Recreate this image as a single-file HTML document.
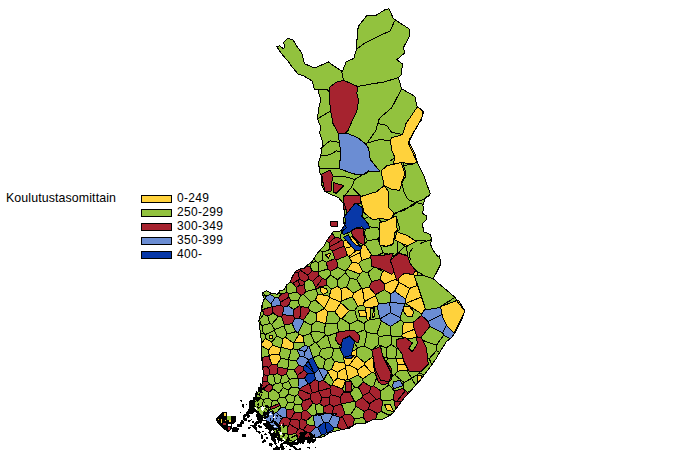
<!DOCTYPE html>
<html><head><meta charset="utf-8"><style>
html,body{margin:0;padding:0;background:#fff;width:680px;height:453px;overflow:hidden}
.t{position:absolute;font-family:"Liberation Sans",sans-serif;font-size:12px;color:#000;line-height:14px;white-space:nowrap}
.bx{position:absolute;left:141px;width:29px;height:6px;border:1px solid #000}
</style></head><body>
<div class="t" style="left:6px;top:191px;font-size:12.4px;letter-spacing:0.1px">Koulutustasomittain</div>
<div class="bx" style="top:195px;background:#ffd23c"></div>
<div class="bx" style="top:209px;background:#92c23e"></div>
<div class="bx" style="top:223px;background:#a6232f"></div>
<div class="bx" style="top:237px;background:#6b8dd3"></div>
<div class="bx" style="top:251px;background:#0838a8"></div>
<div class="t" style="left:177px;top:191px;letter-spacing:0.3px">0-249</div>
<div class="t" style="left:177px;top:205px;letter-spacing:0.3px">250-299</div>
<div class="t" style="left:177px;top:219px;letter-spacing:0.3px">300-349</div>
<div class="t" style="left:177px;top:233px;letter-spacing:0.3px">350-399</div>
<div class="t" style="left:177px;top:247px;letter-spacing:0.3px">400-</div>
<svg style="position:absolute;left:0;top:0" width="680" height="453" viewBox="0 0 680 453" stroke-linejoin="round" shape-rendering="crispEdges">
<polygon points="276.7,46.8 279.7,45.9 283.3,48.6 285.0,46.8 283.3,42.4 287.7,38.5 293.0,39.7 296.5,45.9 301.8,53.0 304.5,63.6 314.2,68.0 316.8,67.1 324.8,63.6 328.3,61.8 331.8,64.5 342.4,71.5 346.1,61.8 353.8,58.5 356.0,50.7 358.2,26.5 367.0,15.4 375.9,15.4 384.7,9.9 389.1,8.8 393.5,18.8 409.0,28.7 410.0,35.3 403.5,47.4 404.6,53.0 396.9,59.6 402.4,64.0 401.3,75.0 398.3,77.6 401.6,88.7 414.9,96.4 417.0,106.3 423.7,111.8 421.5,118.5 408.2,142.7 417.0,162.0 423.7,175.3 430.3,194.0 424.8,198.5 423.7,204.0 422.4,204.0 423.7,208.0 422.4,213.2 426.4,215.9 426.4,219.9 422.4,223.8 423.7,231.8 430.3,234.4 431.7,239.7 430.3,243.7 433.0,250.3 438.3,257.0 439.6,255.3 440.7,264.1 436.3,273.0 433.0,278.5 441.8,286.2 455.0,297.3 457.3,301.7 464.9,311.0 461.6,319.9 456.1,330.9 451.7,337.5 446.2,341.9 440.6,350.8 436.2,358.5 430.7,366.2 424.1,375.1 418.6,381.7 413.0,388.3 409.0,393.0 404.8,397.1 398.2,406.0 391.5,414.8 382.7,419.2 373.9,419.2 365.0,423.6 356.2,423.6 349.6,428.0 338.6,430.3 329.7,432.5 323.1,436.9 312.0,438.0 302.2,437.0 292.5,442.0 282.8,442.0 275.5,437.0 273.0,427.4 265.8,420.0 258.5,412.8 253.7,408.0 254.9,398.3 258.5,391.0 262.2,383.7 263.4,374.0 262.2,361.8 261.0,352.0 261.0,338.3 259.9,329.5 258.8,320.6 261.0,311.8 262.0,305.2 264.3,298.6 262.0,293.0 266.5,290.8 271.0,293.0 277.5,294.2 279.7,290.8 284.2,289.7 286.4,285.3 290.8,281.0 292.2,277.0 295.5,271.4 299.9,269.2 304.3,268.1 307.7,264.8 312.1,261.5 315.4,256.0 318.7,251.6 323.1,247.1 325.3,243.8 327.5,239.4 330.8,235.0 333.1,231.7 343.0,230.7 346.4,227.4 343.0,221.9 344.2,216.4 344.2,210.8 343.0,203.0 338.6,197.6 333.1,195.4 324.3,191.0 321.0,183.2 322.0,176.6 319.7,172.7 318.6,162.8 320.8,155.0 323.0,142.9 319.7,133.0 320.8,127.5 317.5,118.6 318.6,108.7 320.8,99.9 319.7,96.3 317.7,89.2 314.2,89.2 312.4,81.2 303.6,75.9 298.3,74.2 293.0,68.0 287.7,60.9 282.4,54.7" fill="#92c23e" stroke="#000" stroke-width="1"/>
<path d="M343.7,207.7 L344.0,209.5 L348.8,211.0 L349.9,209.6 L353.4,205.2 L344.0,203.2 L343.7,207.7Z M343.3,241.3 L342.0,240.1 L329.7,246.8 L329.9,249.5 L332.4,251.0 L343.7,246.1 L343.3,241.3Z M329.7,246.8 L342.0,240.1 L340.4,238.3 L335.1,237.4 L329.0,242.6 L329.7,246.8Z M327.7,269.1 L330.5,271.4 L337.9,267.2 L336.6,259.8 L334.7,258.6 L326.4,262.3 L327.7,269.1Z M312.7,281.3 L319.0,275.4 L318.6,271.9 L311.9,270.8 L307.9,275.3 L308.4,279.4 L312.7,281.3Z M298.1,280.2 L299.4,279.2 L298.1,272.5 L294.7,272.8 L292.2,277.0 L290.8,281.0 L290.7,281.1 L290.5,282.4 L292.7,283.1 L298.1,280.2Z M299.4,279.2 L298.1,280.2 L299.6,285.5 L304.0,284.8 L304.9,281.7 L299.4,279.2Z M287.0,292.3 L280.6,294.3 L278.7,298.0 L280.4,302.4 L288.8,297.1 L288.3,293.5 L287.0,292.3Z M384.5,289.8 L384.5,283.9 L379.9,279.4 L371.7,281.6 L369.0,287.1 L375.6,294.5 L384.5,289.8Z M299.8,318.5 L303.4,320.1 L309.9,310.7 L308.5,307.5 L301.1,306.7 L299.8,318.5Z M349.0,330.9 L340.8,333.7 L341.9,341.3 L342.1,341.3 L342.4,339.5 L349.5,336.0 L353.6,340.0 L353.6,334.4 L349.0,330.9Z M296.3,287.2 L299.6,285.5 L298.1,280.2 L292.7,283.1 L296.3,287.2Z M299.6,285.5 L296.3,287.2 L296.9,292.2 L300.9,295.2 L303.6,294.5 L305.7,291.6 L304.0,284.8 L299.6,285.5Z M316.0,288.9 L326.7,285.0 L326.0,279.7 L322.5,278.3 L315.6,287.7 L315.9,288.9 L316.0,288.9Z M280.4,302.4 L280.5,304.8 L283.2,307.4 L288.4,305.7 L290.8,300.7 L288.8,297.1 L280.4,302.4Z M273.1,313.2 L272.3,306.9 L271.8,306.6 L262.5,309.7 L263.8,314.3 L267.8,316.1 L273.1,313.2Z M273.1,313.2 L278.4,316.6 L281.5,316.4 L282.9,314.7 L283.2,307.4 L280.5,304.8 L272.3,306.9 L273.1,313.2Z M282.9,314.7 L281.5,316.4 L284.3,325.1 L292.1,323.5 L295.2,318.2 L293.3,315.9 L282.9,314.7Z M299.6,305.7 L293.7,309.5 L293.3,315.9 L295.2,318.2 L299.8,318.5 L301.1,306.7 L299.6,305.7Z M278.3,367.1 L276.9,364.9 L271.6,364.1 L268.7,367.1 L270.0,374.2 L273.6,375.0 L276.9,373.4 L278.3,367.1Z M303.6,366.5 L298.5,365.5 L294.2,370.1 L297.4,375.4 L304.1,370.2 L303.6,366.5Z M267.0,381.0 L262.4,382.2 L262.2,383.7 L261.8,384.5 L261.2,387.6 L262.1,388.9 L262.2,388.9 L269.6,384.0 L267.0,381.0Z M262.2,388.9 L268.8,392.5 L272.7,388.7 L272.8,385.8 L269.6,384.0 L262.2,388.9Z M299.3,388.8 L299.5,389.7 L310.8,394.4 L312.2,393.0 L309.5,383.7 L308.4,383.5 L299.3,388.8Z M301.1,404.7 L303.3,410.6 L306.5,410.7 L313.0,403.1 L310.1,398.5 L303.1,400.8 L301.1,404.7Z M299.7,420.1 L290.3,419.7 L289.8,424.4 L298.2,429.2 L299.5,428.7 L299.7,420.1Z M282.6,417.5 L278.7,424.3 L279.1,425.3 L288.1,426.1 L289.8,424.4 L290.3,419.7 L290.2,419.5 L286.6,417.0 L282.6,417.5Z M304.1,370.2 L297.4,375.4 L297.6,378.0 L298.2,378.8 L304.4,378.5 L307.5,373.8 L304.1,370.2Z M310.1,398.5 L313.0,403.1 L315.8,404.4 L319.6,403.6 L322.2,397.8 L318.5,391.5 L312.2,393.0 L310.8,394.4 L310.1,398.5Z M393.3,375.2 L391.2,373.1 L389.7,380.5 L393.3,375.2Z M375.0,373.2 L376.8,377.5 L379.8,378.5 L376.3,371.5 L375.0,373.2Z M401.7,401.3 L404.8,397.1 L407.4,394.5 L407.3,392.2 L405.4,390.7 L397.0,401.1 L401.7,401.3Z M363.0,395.6 L362.4,397.5 L369.3,403.8 L376.3,399.1 L369.0,392.3 L363.0,395.6Z M363.2,417.4 L365.7,421.1 L370.3,421.0 L373.9,419.2 L375.7,419.2 L377.3,413.5 L368.9,408.9 L364.3,411.5 L363.2,417.4Z M350.0,392.7 L343.7,391.9 L340.0,397.3 L341.2,403.9 L341.5,404.0 L354.5,401.4 L350.0,392.7Z M345.0,414.1 L342.5,416.7 L347.9,427.6 L353.3,425.4 L354.4,418.9 L350.7,414.3 L345.0,414.1Z M342.5,416.7 L340.1,417.5 L336.9,427.2 L341.9,429.6 L347.2,428.5 L347.9,427.6 L342.5,416.7Z M417.7,337.7 L420.8,337.7 L430.0,326.4 L427.9,321.4 L421.6,315.4 L412.9,322.6 L414.4,329.3 L417.4,337.5 L417.7,337.7Z M405.4,390.7 L403.0,388.5 L394.4,391.0 L393.2,399.7 L394.6,401.2 L397.0,401.1 L405.4,390.7Z M315.6,287.7 L322.5,278.3 L319.0,275.4 L312.7,281.3 L315.6,287.7Z M373.6,385.8 L371.2,386.8 L369.0,392.3 L376.3,399.1 L380.4,398.8 L380.8,390.9 L373.6,385.8Z M347.3,255.6 L345.2,248.1 L343.7,246.1 L332.4,251.0 L334.7,258.6 L336.6,259.8 L347.3,255.6Z M307.9,275.3 L300.7,270.4 L298.1,272.5 L299.4,279.2 L304.9,281.7 L308.4,279.4 L307.9,275.3Z M281.5,376.0 L286.4,374.0 L288.1,369.1 L287.9,368.8 L278.3,367.1 L276.9,373.4 L281.5,376.0Z M262.9,357.4 L262.0,360.5 L262.2,361.8 L262.6,365.7 L263.4,366.7 L268.7,367.1 L271.6,364.1 L268.7,355.7 L262.9,357.4Z M263.4,366.7 L262.8,367.9 L263.4,374.0 L263.3,374.6 L267.9,375.7 L270.0,374.2 L268.7,367.1 L263.4,366.7Z M286.6,417.0 L290.2,419.5 L294.9,412.3 L292.8,409.0 L286.3,409.2 L286.6,417.0Z M301.3,418.6 L306.2,420.8 L312.1,415.9 L306.5,410.7 L303.3,410.6 L301.3,412.7 L301.3,418.6Z M304.7,431.5 L303.4,429.6 L299.5,428.7 L298.2,429.2 L295.9,433.4 L298.0,439.0 L298.3,439.0 L302.2,437.0 L303.6,437.1 L304.7,431.5Z M290.2,419.5 L290.3,419.7 L299.7,420.1 L301.3,418.6 L301.3,412.7 L294.9,412.3 L290.2,419.5Z M289.8,424.4 L288.1,426.1 L287.2,433.4 L288.2,434.8 L295.9,433.4 L298.2,429.2 L289.8,424.4Z M311.8,437.6 L310.1,432.9 L304.7,431.5 L303.6,437.1 L311.6,438.0 L311.8,437.6Z M310.1,432.9 L316.0,427.2 L314.7,425.8 L307.2,424.8 L303.4,429.6 L304.7,431.5 L310.1,432.9Z M315.4,379.4 L309.5,383.7 L312.2,393.0 L318.5,391.5 L318.7,391.1 L318.5,381.5 L315.4,379.4Z M303.1,400.8 L310.1,398.5 L310.8,394.4 L299.5,389.7 L297.7,394.7 L303.1,400.8Z M318.5,391.5 L322.2,397.8 L329.1,397.5 L331.2,394.7 L329.9,388.1 L318.7,391.1 L318.5,391.5Z M333.5,406.7 L330.0,404.4 L323.8,406.6 L323.8,412.6 L332.3,414.2 L333.5,406.7Z M329.1,397.5 L330.0,404.4 L333.5,406.7 L341.2,403.9 L340.0,397.3 L331.2,394.7 L329.1,397.5Z M330.7,385.9 L329.9,388.1 L331.2,394.7 L340.0,397.3 L343.7,391.9 L342.5,388.9 L332.1,384.9 L330.7,385.9Z M341.5,404.0 L341.2,403.9 L333.5,406.7 L332.3,414.2 L332.7,415.0 L340.1,417.5 L342.5,416.7 L345.0,414.1 L341.5,404.0Z M318.5,381.5 L318.7,391.1 L329.9,388.1 L330.7,385.9 L323.5,380.6 L318.5,381.5Z M363.0,395.6 L369.0,392.3 L371.2,386.8 L363.1,382.1 L358.4,387.3 L363.0,395.6Z M368.9,408.9 L369.3,403.8 L362.4,397.5 L355.3,401.9 L356.1,406.4 L364.3,411.5 L368.9,408.9Z M376.3,399.1 L369.3,403.8 L368.9,408.9 L377.3,413.5 L381.3,411.4 L382.7,401.1 L380.4,398.8 L376.3,399.1Z M300.9,269.3 L300.6,269.0 L299.9,269.2 L295.5,271.4 L294.7,272.8 L298.1,272.5 L300.7,270.4 L300.9,269.3Z M335.1,237.4 L332.0,233.2 L330.8,235.0 L327.5,239.4 L326.6,241.1 L329.0,242.6 L335.1,237.4Z M303.4,429.6 L307.2,424.8 L306.2,420.8 L301.3,418.6 L299.7,420.1 L299.5,428.7 L303.4,429.6Z M267.0,381.0 L267.9,375.7 L263.3,374.6 L262.4,382.2 L267.0,381.0Z M305.8,266.7 L304.3,268.1 L301.4,268.8 L300.9,269.3 L300.7,270.4 L307.9,275.3 L311.9,270.8 L310.1,266.2 L305.8,266.7Z M394.6,401.2 L395.3,409.8 L398.2,406.0 L401.7,401.3 L397.0,401.1 L394.6,401.2Z M322.2,397.8 L319.6,403.6 L323.8,406.6 L330.0,404.4 L329.1,397.5 L322.2,397.8Z M407.3,392.2 L407.4,394.5 L409.0,393.0 L410.7,391.0 L407.3,392.2Z" fill="#a6232f" stroke="#000" stroke-width="1"/>
<path d="M345.2,248.1 L351.7,246.5 L347.2,241.4 L345.8,240.0 L343.3,241.3 L343.7,246.1 L345.2,248.1Z M358.9,244.7 L352.2,236.5 L350.0,237.7 L351.2,240.0 L356.5,245.3 L356.6,245.3 L358.9,244.7Z M360.7,245.6 L358.9,244.7 L356.6,245.3 L360.4,246.3 L360.7,245.6Z M345.2,248.1 L347.3,255.6 L348.8,256.7 L356.2,250.6 L355.2,250.6 L351.7,246.5 L345.2,248.1Z M361.6,260.4 L360.3,252.6 L349.5,257.8 L352.1,262.3 L358.7,263.3 L361.6,260.4Z M358.7,263.3 L352.1,262.3 L347.2,269.3 L360.1,274.1 L362.6,271.3 L358.7,263.3Z M382.5,271.5 L379.9,279.4 L384.5,283.9 L396.4,278.9 L394.5,273.2 L394.2,272.1 L391.8,274.5 L384.3,270.8 L382.5,271.5Z M402.6,274.4 L399.8,277.1 L398.0,279.8 L399.0,282.4 L409.6,288.3 L416.6,285.9 L416.9,283.1 L414.4,275.8 L417.5,275.9 L417.8,271.7 L415.7,270.5 L413.0,274.5 L404.9,273.4 L402.6,274.4Z M390.6,293.8 L394.7,291.2 L399.0,282.4 L398.0,279.8 L397.1,281.1 L396.4,278.9 L384.5,283.9 L384.5,289.8 L390.6,293.8Z M377.3,306.6 L378.8,303.7 L375.6,295.7 L364.4,301.6 L362.7,305.4 L365.2,307.0 L370.8,307.3 L377.3,306.6Z M412.9,322.6 L403.3,322.0 L402.2,334.0 L414.4,329.3 L412.9,322.6Z M399.0,282.4 L394.7,291.2 L405.6,299.1 L409.6,288.3 L399.0,282.4Z M349.3,364.9 L357.9,369.8 L364.5,364.8 L364.7,362.7 L356.5,355.8 L349.3,364.9Z M334.5,361.5 L331.6,369.4 L337.2,372.3 L345.4,367.6 L346.2,365.6 L344.1,363.1 L334.5,361.5Z M285.6,337.2 L282.8,338.7 L281.6,347.4 L291.2,349.7 L293.3,348.6 L293.4,343.1 L285.6,337.2Z M293.8,342.7 L304.1,342.9 L302.9,335.9 L299.1,334.3 L293.8,342.7Z M281.2,347.8 L272.5,345.3 L268.6,350.0 L269.1,355.1 L279.1,354.6 L281.2,347.8Z M331.6,369.4 L327.8,370.8 L327.8,372.2 L333.6,381.6 L337.4,378.4 L337.2,372.3 L331.6,369.4Z M337.4,378.4 L345.8,380.3 L348.0,379.0 L345.4,367.6 L337.2,372.3 L337.4,378.4Z M352.5,350.3 L351.2,355.4 L344.2,357.1 L343.9,356.4 L344.1,363.1 L346.2,365.6 L349.3,364.9 L356.5,355.8 L356.0,349.9 L352.5,350.3Z M346.2,365.6 L345.4,367.6 L348.0,379.0 L349.1,379.3 L358.1,375.0 L357.9,369.8 L349.3,364.9 L346.2,365.6Z M396.5,358.8 L397.4,364.3 L405.6,364.5 L403.6,360.6 L403.0,358.1 L396.5,358.8Z M414.4,329.3 L402.2,334.0 L401.8,336.1 L403.5,338.0 L405.3,337.7 L406.7,338.7 L417.4,337.5 L414.4,329.3Z M397.4,364.3 L397.7,371.2 L406.9,370.1 L407.7,368.7 L405.6,364.5 L397.4,364.3Z M425.3,308.4 L421.5,297.0 L405.7,303.4 L405.7,303.5 L421.7,314.0 L425.3,308.4Z M364.4,301.6 L362.4,288.5 L361.6,288.3 L353.6,293.1 L352.6,296.9 L357.7,306.2 L362.7,305.4 L364.4,301.6Z M324.3,308.1 L324.3,308.5 L327.8,311.6 L335.0,312.0 L340.7,302.6 L340.7,302.0 L329.6,297.5 L324.3,308.1Z M337.4,286.5 L331.4,288.9 L329.2,296.3 L329.6,297.5 L340.7,302.0 L341.7,300.7 L340.9,288.3 L337.4,286.5Z M346.6,287.3 L340.9,288.3 L341.7,300.7 L352.6,296.9 L353.6,293.1 L346.6,287.3Z M340.7,302.6 L335.0,312.0 L340.2,318.9 L342.0,318.7 L349.4,310.6 L340.7,302.6Z M370.8,307.3 L365.2,307.0 L367.3,320.6 L370.1,319.8 L370.8,307.3Z M327.8,311.6 L324.3,308.5 L316.0,313.2 L316.5,320.9 L325.3,323.7 L325.7,323.4 L327.8,311.6Z M364.7,244.3 L364.4,244.4 L364.4,245.3 L363.3,244.8 L360.7,245.6 L360.4,246.3 L361.8,246.7 L360.5,250.6 L360.1,250.6 L360.3,252.6 L361.6,260.4 L370.8,257.5 L370.6,255.9 L372.2,255.9 L364.7,244.3Z M375.6,295.7 L375.6,294.5 L369.0,287.1 L362.4,288.5 L364.4,301.6 L375.6,295.7Z M405.6,299.1 L405.7,303.4 L421.5,297.0 L419.8,291.8 L418.2,287.1 L416.6,285.9 L409.6,288.3 L405.6,299.1Z M348.8,256.7 L349.5,257.8 L360.3,252.6 L360.1,250.6 L356.2,250.6 L348.8,256.7Z M364.5,364.8 L371.6,372.7 L375.0,373.2 L376.3,371.5 L375.3,369.5 L373.5,358.9 L373.0,356.2 L364.7,362.7 L364.5,364.8Z M271.8,341.8 L265.5,338.5 L261.3,343.3 L261.9,346.1 L268.6,350.0 L272.5,345.3 L271.8,341.8Z M279.1,354.6 L269.1,355.1 L268.7,355.7 L271.6,364.1 L276.9,364.9 L281.1,358.1 L279.1,354.6Z M332.1,384.9 L342.5,388.9 L345.0,382.4 L345.0,381.6 L345.3,381.6 L345.8,380.3 L337.4,378.4 L333.6,381.6 L332.1,384.9Z M357.9,369.8 L358.1,375.0 L362.8,378.9 L371.6,372.7 L364.5,364.8 L357.9,369.8Z M317.9,294.0 L315.4,300.1 L324.3,308.1 L329.6,297.5 L329.2,296.3 L317.9,294.0Z" fill="#ffd23c" stroke="#000" stroke-width="1"/>
<path d="M395.3,237.5 L397.1,232.0 L396.5,231.2 L394.6,233.1 L394.0,237.5 L395.3,237.5Z M378.9,228.1 L379.1,232.4 L379.6,227.1 L378.9,228.1Z M326.4,262.3 L334.7,258.6 L332.4,251.0 L329.9,249.5 L323.0,252.0 L322.9,260.2 L326.4,262.3Z M363.3,244.8 L359.1,242.7 L352.5,236.1 L352.4,235.8 L352.2,236.5 L358.9,244.7 L360.7,245.6 L363.3,244.8Z M364.7,244.3 L367.2,240.8 L364.0,232.8 L363.7,232.8 L364.4,238.7 L364.4,244.4 L364.7,244.3Z M398.3,253.2 L405.7,244.9 L402.5,243.7 L397.3,241.1 L397.7,253.1 L398.3,253.2Z M382.5,271.5 L384.3,270.8 L381.2,269.2 L376.9,267.9 L382.5,271.5Z M392.2,265.6 L390.7,260.6 L390.5,261.2 L392.2,265.7 L392.2,265.6Z M393.8,255.6 L392.5,255.3 L391.1,259.4 L393.5,257.4 L393.8,255.6Z M382.9,252.8 L376.7,255.9 L379.9,255.9 L388.4,254.2 L382.9,252.8Z M393.5,257.4 L398.5,253.3 L407.7,255.9 L407.6,255.4 L398.3,253.2 L397.7,253.1 L393.8,255.6 L393.5,257.4Z M404.9,273.4 L403.8,273.2 L402.6,274.4 L404.9,273.4Z M379.6,318.3 L377.3,306.6 L370.8,307.3 L370.1,319.8 L379.6,318.3Z M341.9,341.3 L339.1,348.0 L340.7,349.1 L342.1,341.3 L341.9,341.3Z M356.0,349.9 L357.4,347.8 L354.4,342.7 L353.0,348.3 L352.5,350.3 L356.0,349.9Z M265.5,338.5 L271.8,341.8 L276.9,336.1 L274.4,330.2 L265.2,334.7 L265.5,338.5Z M293.4,343.1 L293.3,348.6 L297.2,350.1 L298.3,349.6 L305.0,345.2 L304.1,342.9 L293.8,342.7 L293.4,343.1Z M277.3,400.1 L272.4,400.8 L269.6,410.7 L273.9,413.3 L276.3,412.7 L280.7,407.6 L277.3,400.1Z M279.1,425.3 L278.3,427.8 L281.1,433.0 L287.2,433.4 L288.1,426.1 L279.1,425.3Z M323.8,379.8 L323.5,380.6 L330.7,385.9 L332.1,384.9 L333.6,381.6 L327.8,372.2 L323.8,379.8Z M316.2,414.6 L320.7,415.4 L323.8,412.6 L323.8,406.6 L319.6,403.6 L315.8,404.4 L316.2,414.6Z M389.0,384.9 L394.4,391.0 L403.0,388.5 L404.0,382.5 L394.7,374.7 L393.3,375.2 L389.7,380.5 L389.4,381.8 L388.9,381.7 L389.0,384.9Z M382.7,401.1 L381.3,411.4 L388.7,415.1 L392.9,412.9 L395.3,409.8 L394.6,401.2 L393.2,399.7 L382.7,401.1Z M351.6,382.9 L351.6,390.8 L354.6,387.3 L351.6,382.9Z M349.1,379.3 L348.0,379.0 L345.8,380.3 L345.3,381.6 L350.7,381.6 L349.1,379.3Z M342.5,388.9 L343.7,391.9 L350.0,392.7 L351.0,391.6 L345.0,391.6 L345.0,382.4 L342.5,388.9Z M461.1,320.9 L461.6,319.9 L463.6,314.5 L463.3,314.2 L459.9,321.1 L461.1,320.9Z M447.9,301.8 L447.1,302.3 L443.5,305.2 L443.5,305.5 L452.0,302.3 L447.9,301.8Z M411.7,351.1 L412.4,351.8 L413.2,350.6 L411.7,351.1Z M383.5,357.5 L386.2,363.0 L387.5,358.4 L387.1,358.0 L383.5,357.5Z M400.7,320.1 L403.3,322.0 L412.9,322.6 L421.6,315.4 L421.7,314.0 L405.7,303.5 L405.0,304.0 L400.1,317.7 L400.7,320.1Z M411.5,378.4 L415.7,385.1 L418.6,381.7 L424.1,375.1 L424.1,375.0 L419.8,373.1 L411.6,378.1 L411.5,378.4Z M356.6,279.3 L360.1,274.1 L347.2,269.3 L345.4,271.4 L345.5,273.0 L350.1,278.6 L356.6,279.3Z M326.7,285.0 L316.0,288.9 L317.9,294.0 L329.2,296.3 L331.4,288.9 L326.7,285.0Z M362.7,305.4 L357.7,306.2 L354.7,310.3 L357.6,320.0 L364.1,323.4 L367.3,320.6 L365.2,307.0 L362.7,305.4Z M397.7,253.1 L397.3,241.1 L394.6,239.7 L395.3,237.5 L394.0,237.5 L393.2,243.7 L386.6,246.4 L380.2,245.0 L382.9,252.8 L388.4,254.2 L393.2,253.3 L392.5,255.3 L393.8,255.6 L397.7,253.1Z M378.1,238.9 L379.9,244.3 L379.3,237.0 L378.1,238.9Z M407.6,255.4 L406.4,246.6 L407.9,245.8 L405.7,244.9 L398.3,253.2 L407.6,255.4Z M443.5,305.2 L447.1,302.3 L442.5,305.1 L443.5,305.2Z M374.1,213.5 L362.0,207.0 L361.8,207.0 L363.1,212.2 L361.8,216.2 L364.2,219.1 L374.1,213.5Z M345.4,223.7 L345.9,222.8 L344.6,216.2 L348.8,211.0 L344.0,209.5 L344.2,210.8 L344.2,216.4 L343.2,220.9 L345.4,223.7Z M353.3,229.7 L356.5,228.1 L363.1,228.1 L361.8,226.8 L355.2,228.1 L353.2,229.6 L353.3,229.7Z M364.0,232.8 L366.2,229.0 L364.4,229.4 L363.1,228.1 L363.7,232.8 L364.0,232.8Z M342.0,240.1 L343.3,241.3 L345.8,240.0 L343.2,237.4 L348.5,234.7 L350.0,237.7 L352.2,236.5 L352.4,235.8 L351.3,231.1 L349.9,232.1 L343.2,234.7 L342.2,230.8 L341.6,230.8 L340.4,238.3 L342.0,240.1Z M340.8,333.7 L338.5,332.2 L327.6,336.0 L330.9,346.9 L333.8,349.0 L339.1,348.0 L341.9,341.3 L340.8,333.7Z M364.6,329.7 L353.6,334.4 L353.6,340.0 L354.8,341.2 L354.4,342.7 L357.4,347.8 L364.3,346.0 L367.1,332.7 L364.6,329.7Z M357.4,347.8 L356.0,349.9 L356.5,355.8 L364.7,362.7 L373.0,356.2 L371.8,350.0 L371.9,350.0 L364.3,346.0 L357.4,347.8Z M281.6,347.4 L282.8,338.7 L276.9,336.1 L271.8,341.8 L272.5,345.3 L281.2,347.8 L281.6,347.4Z M281.1,358.1 L276.9,364.9 L278.3,367.1 L287.9,368.8 L288.5,359.9 L288.4,359.7 L281.1,358.1Z M287.9,368.8 L288.1,369.1 L294.2,370.1 L298.5,365.5 L296.5,360.6 L288.5,359.9 L287.9,368.8Z M288.2,434.8 L287.9,439.3 L293.2,441.6 L297.8,439.3 L298.0,439.0 L295.9,433.4 L288.2,434.8Z M407.3,392.2 L410.7,391.0 L413.0,388.3 L415.7,385.1 L411.5,378.4 L404.0,382.5 L403.0,388.5 L405.4,390.7 L407.3,392.2Z M429.2,358.7 L436.5,350.6 L436.4,345.2 L422.5,340.3 L426.5,348.3 L427.7,358.6 L429.2,358.7Z M406.7,338.7 L412.4,343.0 L408.9,348.3 L411.7,351.1 L413.2,350.6 L417.7,343.0 L415.9,337.7 L417.7,337.7 L417.4,337.5 L406.7,338.7Z M419.8,373.1 L424.1,375.0 L430.7,366.2 L431.8,364.7 L429.2,358.7 L427.7,358.6 L428.3,364.2 L421.2,371.2 L419.3,371.2 L419.8,373.1Z M396.5,358.8 L403.0,358.1 L401.8,353.6 L397.8,348.3 L397.1,348.6 L395.7,358.2 L396.5,358.8Z M397.8,348.3 L396.5,346.5 L396.5,339.4 L403.5,338.0 L401.8,336.1 L391.8,336.4 L391.2,344.5 L397.1,348.6 L397.8,348.3Z M372.3,349.8 L380.6,346.5 L382.4,355.3 L383.5,357.5 L387.1,358.0 L386.2,347.8 L378.3,344.8 L372.3,349.8Z M340.7,302.0 L340.7,302.6 L349.4,310.6 L354.7,310.3 L357.7,306.2 L352.6,296.9 L341.7,300.7 L340.7,302.0Z M417.5,275.9 L425.0,276.0 L417.8,271.7 L417.5,275.9Z M416.6,285.9 L418.2,287.1 L416.9,283.1 L416.6,285.9Z M361.6,260.4 L358.7,263.3 L362.6,271.3 L367.7,272.6 L374.1,267.1 L371.9,266.5 L370.8,257.5 L361.6,260.4Z M361.6,288.3 L362.4,288.5 L369.0,287.1 L371.7,281.6 L367.7,272.6 L362.6,271.3 L360.1,274.1 L356.6,279.3 L361.6,288.3Z M269.7,323.5 L271.7,324.3 L278.4,316.6 L273.1,313.2 L267.8,316.1 L269.7,323.5Z M367.3,320.6 L364.1,323.4 L364.6,329.7 L367.1,332.7 L376.9,333.8 L381.3,321.1 L380.2,318.7 L379.6,318.3 L370.1,319.8 L367.3,320.6Z M314.6,342.8 L316.4,343.1 L325.7,335.0 L324.4,332.6 L311.9,331.0 L310.5,333.4 L314.6,342.8Z M390.6,335.2 L390.6,326.3 L381.3,321.1 L376.9,333.8 L379.1,336.4 L390.6,335.2Z M290.7,281.1 L288.1,283.7 L290.5,282.4 L290.7,281.1Z M293.6,402.5 L294.7,404.0 L301.1,404.7 L303.1,400.8 L297.7,394.7 L295.0,396.3 L293.6,402.5Z M354.4,418.9 L353.3,425.4 L353.4,425.5 L356.2,423.6 L365.0,423.6 L365.7,421.1 L363.2,417.4 L354.4,418.9Z M269.6,410.7 L272.4,400.8 L268.2,397.9 L263.2,399.5 L262.7,406.0 L267.9,410.8 L269.6,410.7Z M322.9,260.2 L323.0,252.0 L320.0,250.3 L319.9,250.4 L318.7,251.6 L315.4,256.0 L314.5,257.5 L315.4,261.4 L318.3,262.3 L322.9,260.2Z M337.6,279.8 L330.7,275.0 L326.0,279.7 L326.7,285.0 L331.4,288.9 L337.4,286.5 L337.6,279.8Z M278.9,393.4 L272.7,388.7 L268.8,392.5 L268.2,397.9 L272.4,400.8 L277.3,400.1 L279.8,397.1 L278.9,393.4Z M270.9,293.0 L266.5,290.8 L263.0,292.5 L265.6,296.4 L270.3,294.3 L270.9,293.0Z M318.9,355.3 L312.8,357.7 L312.7,357.8 L318.9,369.1 L323.2,368.3 L325.3,359.5 L318.9,355.3Z M280.6,294.3 L287.0,292.3 L286.6,285.1 L286.4,285.3 L284.2,289.7 L279.7,290.8 L278.9,292.1 L280.6,294.3Z M261.2,387.6 L260.3,387.5 L258.5,391.0 L257.0,394.0 L259.3,394.7 L262.1,388.9 L261.2,387.6Z M316.0,313.2 L309.9,310.7 L303.4,320.1 L304.0,321.2 L311.0,325.1 L316.5,320.9 L316.0,313.2Z M375.0,373.2 L371.6,372.7 L362.8,378.9 L363.1,382.1 L371.2,386.8 L373.6,385.8 L376.8,377.5 L375.0,373.2Z M273.6,375.0 L270.0,374.2 L267.9,375.7 L267.0,381.0 L269.6,384.0 L272.8,385.8 L275.4,383.4 L273.6,375.0Z M378.1,238.9 L379.3,237.0 L379.0,234.0 L379.1,232.4 L378.9,228.1 L369.3,226.7 L369.7,228.1 L366.2,229.0 L364.0,232.8 L367.2,240.8 L378.1,238.9Z M274.6,329.5 L283.8,326.1 L284.3,325.1 L281.5,316.4 L278.4,316.6 L271.7,324.3 L274.6,329.5Z M311.7,262.9 L311.0,262.3 L307.7,264.8 L305.8,266.7 L310.1,266.2 L311.7,262.9Z M386.2,363.0 L387.7,365.9 L391.2,373.0 L391.2,373.1 L393.3,375.2 L394.7,374.7 L397.7,371.2 L397.4,364.3 L396.5,358.8 L395.7,358.2 L387.5,358.4 L386.2,363.0Z M291.2,349.7 L281.6,347.4 L281.2,347.8 L279.1,354.6 L281.1,358.1 L288.4,359.7 L291.2,349.7Z M281.5,376.0 L276.9,373.4 L273.6,375.0 L275.4,383.4 L280.5,382.9 L281.5,376.0Z M308.5,307.5 L310.8,301.9 L303.6,294.5 L300.9,295.2 L298.2,300.7 L299.6,305.7 L301.1,306.7 L308.5,307.5Z M356.1,406.4 L350.7,414.3 L354.4,418.9 L363.2,417.4 L364.3,411.5 L356.1,406.4Z M318.7,271.7 L327.7,269.1 L326.4,262.3 L322.9,260.2 L318.3,262.3 L318.7,271.7Z M380.8,390.9 L380.4,398.8 L382.7,401.1 L393.2,399.7 L394.4,391.0 L389.0,384.9 L380.8,390.9Z M325.3,323.7 L324.4,332.6 L325.7,335.0 L327.6,336.0 L338.5,332.2 L337.1,323.8 L325.7,323.4 L325.3,323.7Z M323.9,434.9 L321.4,434.9 L320.0,436.8 L320.0,437.2 L323.1,436.9 L324.8,435.7 L323.9,434.9Z M296.3,287.2 L292.7,283.1 L290.5,282.4 L288.1,283.7 L286.6,285.1 L287.0,292.3 L288.3,293.5 L296.9,292.2 L296.3,287.2Z M257.0,394.0 L254.9,398.3 L254.5,401.6 L261.2,398.5 L259.3,394.7 L257.0,394.0Z M436.4,345.2 L443.5,335.5 L442.8,332.7 L430.0,326.4 L420.8,337.7 L421.2,337.7 L422.5,340.3 L436.4,345.2Z M260.4,333.6 L261.0,338.3 L261.0,343.2 L261.3,343.3 L265.5,338.5 L265.2,334.7 L263.2,333.0 L260.4,333.6Z M283.1,387.7 L278.9,393.4 L279.8,397.1 L285.2,397.5 L288.4,394.3 L288.4,390.1 L283.1,387.7Z M376.9,333.8 L367.1,332.7 L364.3,346.0 L371.9,350.0 L372.3,349.8 L378.3,344.8 L379.1,336.4 L376.9,333.8Z M287.9,439.3 L288.2,434.8 L287.2,433.4 L281.1,433.0 L277.3,438.2 L278.9,439.3 L285.8,441.5 L287.9,439.3Z M378.3,344.8 L386.2,347.8 L391.2,344.5 L391.8,336.4 L390.6,335.2 L379.1,336.4 L378.3,344.8Z M326.6,241.1 L325.3,243.8 L323.1,247.1 L320.0,250.3 L320.0,250.3 L323.0,252.0 L329.9,249.5 L329.7,246.8 L329.0,242.6 L326.6,241.1Z M311.9,331.0 L311.0,325.1 L304.0,321.2 L298.1,332.7 L299.1,334.3 L302.9,335.9 L310.5,333.4 L311.9,331.0Z M298.1,332.7 L295.7,331.7 L287.2,333.9 L285.6,337.2 L293.4,343.1 L293.8,342.7 L299.1,334.3 L298.1,332.7Z M343.2,220.9 L343.0,221.9 L344.7,224.7 L345.4,223.7 L343.2,220.9Z M377.3,413.5 L375.7,419.2 L382.7,419.2 L388.7,416.2 L388.7,415.1 L381.3,411.4 L377.3,413.5Z M436.5,350.6 L439.6,352.5 L440.6,350.8 L446.2,341.9 L450.4,338.6 L443.5,335.5 L436.4,345.2 L436.5,350.6Z M267.9,410.8 L262.7,406.0 L256.2,408.4 L255.8,410.1 L258.5,412.8 L261.0,415.2 L263.9,415.0 L267.9,410.8Z M349.9,324.0 L342.0,318.7 L340.2,318.9 L337.1,323.8 L338.5,332.2 L340.8,333.7 L349.0,330.9 L349.9,324.0Z M406.9,370.1 L411.6,378.1 L419.8,373.1 L419.3,371.2 L408.9,371.2 L407.7,368.7 L406.9,370.1Z M324.3,308.5 L324.3,308.1 L315.4,300.1 L310.8,301.9 L308.5,307.5 L309.9,310.7 L316.0,313.2 L324.3,308.5Z M389.7,302.8 L390.3,302.2 L390.6,293.8 L384.5,289.8 L375.6,294.5 L375.6,295.7 L378.8,303.7 L389.7,302.8Z M321.2,349.3 L318.9,355.3 L325.3,359.5 L331.6,357.5 L333.8,349.0 L330.9,346.9 L321.2,349.3Z M397.7,371.2 L394.7,374.7 L404.0,382.5 L411.5,378.4 L411.6,378.1 L406.9,370.1 L397.7,371.2Z M261.9,309.2 L262.7,303.1 L262.0,305.2 L261.4,309.2 L261.9,309.2Z M261.9,346.1 L261.3,343.3 L261.0,343.2 L261.0,347.2 L261.9,346.1Z M288.5,381.3 L282.0,383.9 L283.1,387.7 L288.4,390.1 L291.6,387.1 L288.5,381.3Z M259.7,319.5 L259.1,319.3 L258.8,320.6 L259.3,325.0 L260.8,324.4 L259.7,319.5Z M347.2,428.5 L349.6,428.0 L353.4,425.5 L353.3,425.4 L347.9,427.6 L347.2,428.5Z M303.6,294.5 L310.8,301.9 L315.4,300.1 L317.9,294.0 L316.0,288.9 L315.9,288.9 L305.7,291.6 L303.6,294.5Z M262.2,325.4 L260.8,324.4 L259.3,325.0 L259.9,329.5 L260.4,333.6 L263.2,333.0 L262.2,325.4Z M302.9,335.9 L304.1,342.9 L305.0,345.2 L308.4,346.6 L309.3,346.7 L314.6,342.8 L310.5,333.4 L302.9,335.9Z M364.1,323.4 L357.6,320.0 L349.9,324.0 L349.0,330.9 L353.6,334.4 L364.6,329.7 L364.1,323.4Z M292.8,409.0 L294.9,412.3 L301.3,412.7 L303.3,410.6 L301.1,404.7 L294.7,404.0 L292.8,409.0Z M316.5,320.9 L311.0,325.1 L311.9,331.0 L324.4,332.6 L325.3,323.7 L316.5,320.9Z M381.5,222.1 L385.3,221.2 L386.9,220.4 L374.3,213.6 L381.5,222.1Z M345.5,273.0 L337.6,279.8 L337.4,286.5 L340.9,288.3 L346.6,287.3 L350.1,278.6 L345.5,273.0Z M256.2,408.4 L254.1,404.9 L253.7,408.0 L255.8,410.1 L256.2,408.4Z M371.7,281.6 L379.9,279.4 L382.5,271.5 L376.9,267.9 L374.1,267.1 L367.7,272.6 L371.7,281.6Z M287.7,402.0 L285.2,397.5 L279.8,397.1 L277.3,400.1 L280.7,407.6 L285.2,408.0 L287.7,402.0Z M349.4,310.6 L342.0,318.7 L349.9,324.0 L357.6,320.0 L354.7,310.3 L349.4,310.6Z M262.9,357.4 L261.6,356.7 L262.0,360.5 L262.9,357.4Z M265.6,296.4 L263.0,292.5 L262.0,293.0 L264.3,298.6 L264.3,298.7 L265.1,298.0 L265.6,296.4Z M344.0,203.2 L343.0,203.0 L343.7,207.7 L344.0,203.2Z M452.0,302.3 L456.7,300.6 L455.0,297.3 L447.9,301.8 L452.0,302.3Z M382.9,252.8 L380.2,245.0 L380.0,245.0 L379.9,244.3 L378.1,238.9 L367.2,240.8 L364.7,244.3 L372.2,255.9 L376.7,255.9 L382.9,252.8Z M336.9,427.2 L334.1,427.9 L332.9,430.4 L333.2,431.6 L338.6,430.3 L341.9,429.6 L336.9,427.2Z M345.5,273.0 L345.4,271.4 L337.9,267.2 L330.5,271.4 L330.7,275.0 L337.6,279.8 L345.5,273.0Z M287.2,333.9 L283.8,326.1 L274.6,329.5 L274.4,330.2 L276.9,336.1 L282.8,338.7 L285.6,337.2 L287.2,333.9Z M288.4,394.3 L285.2,397.5 L287.7,402.0 L293.6,402.5 L295.0,396.3 L288.4,394.3Z M320.0,436.8 L311.8,437.6 L311.6,438.0 L312.0,438.0 L320.0,437.2 L320.0,436.8Z M431.8,364.7 L436.2,358.5 L439.6,352.5 L436.5,350.6 L429.2,358.7 L431.8,364.7Z M297.6,378.0 L297.4,375.4 L294.2,370.1 L288.1,369.1 L286.4,374.0 L289.4,379.2 L297.6,378.0Z M316.4,343.1 L314.6,342.8 L309.3,346.7 L312.8,357.7 L318.9,355.3 L321.2,349.3 L316.4,343.1Z M402.2,334.0 L403.3,322.0 L400.7,320.1 L390.6,326.3 L390.6,335.2 L391.8,336.4 L401.8,336.1 L402.2,334.0Z M388.7,415.1 L388.7,416.2 L391.5,414.8 L392.9,412.9 L388.7,415.1Z M293.3,348.6 L291.2,349.7 L288.4,359.7 L288.5,359.9 L296.5,360.6 L300.0,356.0 L297.2,350.1 L293.3,348.6Z M352.1,262.3 L349.5,257.8 L348.8,256.7 L347.3,255.6 L336.6,259.8 L337.9,267.2 L345.4,271.4 L347.2,269.3 L352.1,262.3Z M288.4,390.1 L288.4,394.3 L295.0,396.3 L297.7,394.7 L299.5,389.7 L299.3,388.8 L298.0,387.3 L291.6,387.1 L288.4,390.1Z M263.8,314.3 L262.5,309.7 L261.9,309.2 L261.4,309.2 L261.0,311.8 L259.1,319.3 L259.7,319.5 L263.8,314.3Z M298.2,300.7 L290.8,300.7 L288.4,305.7 L293.7,309.5 L299.6,305.7 L298.2,300.7Z M318.6,271.9 L319.0,275.4 L322.5,278.3 L326.0,279.7 L330.7,275.0 L330.5,271.4 L327.7,269.1 L318.7,271.7 L318.6,271.9Z M337.1,323.8 L340.2,318.9 L335.0,312.0 L327.8,311.6 L325.7,323.4 L337.1,323.8Z M304.9,281.7 L304.0,284.8 L305.7,291.6 L315.9,288.9 L315.6,287.7 L312.7,281.3 L308.4,279.4 L304.9,281.7Z M387.5,358.4 L395.7,358.2 L397.1,348.6 L391.2,344.5 L386.2,347.8 L387.1,358.0 L387.5,358.4Z M341.6,230.8 L333.1,231.7 L332.0,233.2 L335.1,237.4 L340.4,238.3 L341.6,230.8Z M265.2,334.7 L274.4,330.2 L274.6,329.5 L271.7,324.3 L269.7,323.5 L262.2,325.4 L263.2,333.0 L265.2,334.7Z M339.1,348.0 L333.8,349.0 L331.6,357.5 L334.5,361.5 L344.1,363.1 L343.9,356.4 L340.6,350.0 L340.7,349.1 L339.1,348.0Z M263.9,415.0 L261.0,415.2 L265.5,419.7 L263.9,415.0Z M355.3,401.9 L354.5,401.4 L341.5,404.0 L345.0,414.1 L350.7,414.3 L356.1,406.4 L355.3,401.9Z M280.5,382.9 L275.4,383.4 L272.8,385.8 L272.7,388.7 L278.9,393.4 L283.1,387.7 L282.0,383.9 L280.5,382.9Z M285.8,441.5 L278.9,439.3 L282.8,442.0 L285.7,442.0 L285.8,441.5Z M327.6,336.0 L325.7,335.0 L316.4,343.1 L321.2,349.3 L330.9,346.9 L327.6,336.0Z M365.0,423.6 L365.0,423.6 L370.3,421.0 L365.7,421.1 L365.0,423.6Z M315.4,261.4 L314.5,257.5 L312.1,261.5 L311.0,262.3 L311.7,262.9 L315.4,261.4Z M262.1,388.9 L259.3,394.7 L261.2,398.5 L263.2,399.5 L268.2,397.9 L268.8,392.5 L262.2,388.9 L262.1,388.9Z M463.6,314.5 L464.9,311.0 L463.3,314.2 L463.6,314.5Z M286.3,409.2 L292.8,409.0 L294.7,404.0 L293.6,402.5 L287.7,402.0 L285.2,408.0 L286.3,409.2Z M313.0,403.1 L306.5,410.7 L312.1,415.9 L313.2,416.1 L316.2,414.6 L315.8,404.4 L313.0,403.1Z M292.1,323.5 L284.3,325.1 L283.8,326.1 L287.2,333.9 L295.7,331.7 L292.1,323.5Z M346.6,287.3 L353.6,293.1 L361.6,288.3 L356.6,279.3 L350.1,278.6 L346.6,287.3Z M268.6,350.0 L261.9,346.1 L261.0,347.2 L261.0,352.0 L261.6,356.7 L262.9,357.4 L268.7,355.7 L269.1,355.1 L268.6,350.0Z M298.0,387.3 L298.2,378.8 L297.6,378.0 L289.4,379.2 L288.5,381.3 L291.6,387.1 L298.0,387.3Z M363.1,382.1 L362.8,378.9 L358.1,375.0 L349.1,379.3 L350.7,381.6 L351.6,381.6 L351.6,382.9 L354.6,387.3 L358.4,387.3 L363.1,382.1Z M296.9,292.2 L288.3,293.5 L288.8,297.1 L290.8,300.7 L298.2,300.7 L300.9,295.2 L296.9,292.2Z M325.3,359.5 L323.2,368.3 L327.8,370.8 L331.6,369.4 L334.5,361.5 L331.6,357.5 L325.3,359.5Z M287.9,439.3 L285.8,441.5 L285.7,442.0 L292.5,442.0 L293.2,441.6 L287.9,439.3Z M269.7,323.5 L267.8,316.1 L263.8,314.3 L259.7,319.5 L260.8,324.4 L262.2,325.4 L269.7,323.5Z M281.1,433.0 L278.3,427.8 L273.8,430.3 L275.5,437.0 L277.3,438.2 L281.1,433.0Z M263.4,366.7 L262.6,365.7 L262.8,367.9 L263.4,366.7Z M354.6,387.3 L351.6,390.8 L351.6,391.6 L351.0,391.6 L350.0,392.7 L354.5,401.4 L355.3,401.9 L362.4,397.5 L363.0,395.6 L358.4,387.3 L354.6,387.3Z M376.8,377.5 L373.6,385.8 L380.8,390.9 L389.0,384.9 L388.9,381.7 L380.6,380.1 L379.8,378.5 L376.8,377.5Z M315.4,261.4 L311.7,262.9 L310.1,266.2 L311.9,270.8 L318.6,271.9 L318.7,271.7 L318.3,262.3 L315.4,261.4Z M289.4,379.2 L286.4,374.0 L281.5,376.0 L280.5,382.9 L282.0,383.9 L288.5,381.3 L289.4,379.2Z M261.8,384.5 L260.3,387.5 L261.2,387.6 L261.8,384.5Z M264.3,298.7 L262.7,303.1 L261.9,309.2 L262.5,309.7 L271.8,306.6 L270.9,304.0 L265.1,298.0 L264.3,298.7Z M378.9,228.1 L379.6,227.1 L380.0,222.5 L381.5,222.1 L374.3,213.6 L374.1,213.5 L364.2,219.1 L368.4,224.1 L369.3,226.7 L378.9,228.1Z M313.2,416.1 L312.1,415.9 L306.2,420.8 L307.2,424.8 L314.7,425.8 L313.2,416.1Z M278.7,298.0 L280.6,294.3 L278.9,292.1 L277.5,294.2 L271.0,293.0 L270.9,293.0 L270.3,294.3 L275.0,297.6 L278.7,298.0Z M256.2,408.4 L262.7,406.0 L263.2,399.5 L261.2,398.5 L254.5,401.6 L254.1,404.9 L256.2,408.4Z" fill="#92c23e" stroke="#000" stroke-width="1"/>
<path d="M270.3,294.3 L265.6,296.4 L265.1,298.0 L270.9,304.0 L275.0,297.6 L270.3,294.3Z M298.3,349.6 L305.1,351.8 L308.4,346.6 L305.0,345.2 L298.3,349.6Z M270.9,304.0 L271.8,306.6 L272.3,306.9 L280.5,304.8 L280.4,302.4 L278.7,298.0 L275.0,297.6 L270.9,304.0Z M288.4,305.7 L283.2,307.4 L282.9,314.7 L293.3,315.9 L293.7,309.5 L288.4,305.7Z M295.2,318.2 L292.1,323.5 L295.7,331.7 L298.1,332.7 L304.0,321.2 L303.4,320.1 L299.8,318.5 L295.2,318.2Z M308.4,346.6 L305.1,351.8 L303.8,356.9 L308.7,359.6 L312.7,357.8 L312.8,357.7 L309.3,346.7 L308.4,346.6Z M300.0,356.0 L303.8,356.9 L305.1,351.8 L298.3,349.6 L297.2,350.1 L300.0,356.0Z M327.8,370.8 L323.2,368.3 L318.9,369.1 L318.8,369.3 L323.8,379.8 L327.8,372.2 L327.8,370.8Z M273.9,413.3 L272.9,420.7 L278.7,424.3 L282.6,417.5 L276.3,412.7 L273.9,413.3Z M314.3,373.4 L315.4,379.4 L318.5,381.5 L323.5,380.6 L323.8,379.8 L318.8,369.3 L314.4,373.2 L314.3,373.4Z M298.2,378.8 L298.0,387.3 L299.3,388.8 L308.4,383.5 L304.4,378.5 L298.2,378.8Z M328.6,422.5 L332.7,415.0 L332.3,414.2 L323.8,412.6 L320.7,415.4 L323.6,422.5 L325.5,422.8 L328.6,422.5Z M340.1,417.5 L332.7,415.0 L328.6,422.5 L334.1,427.9 L336.9,427.2 L340.1,417.5Z M430.0,326.4 L442.8,332.7 L446.6,325.2 L442.8,317.7 L442.2,314.5 L427.9,321.4 L430.0,326.4Z M380.2,318.7 L390.6,312.7 L389.7,302.8 L378.8,303.7 L377.3,306.6 L379.6,318.3 L380.2,318.7Z M427.9,321.4 L442.2,314.5 L440.6,306.7 L439.6,307.7 L425.7,309.7 L425.3,308.4 L421.7,314.0 L421.6,315.4 L427.9,321.4Z M443.5,305.2 L442.5,305.1 L441.6,305.7 L440.8,306.5 L443.5,305.5 L443.5,305.2Z M405.7,303.5 L405.7,303.4 L405.6,299.1 L394.7,291.2 L390.6,293.8 L390.3,302.2 L405.0,304.0 L405.7,303.5Z M308.2,360.7 L308.7,359.6 L303.8,356.9 L300.0,356.0 L296.5,360.6 L298.5,365.5 L303.6,366.5 L305.4,364.9 L308.2,360.7Z M280.7,407.6 L276.3,412.7 L282.6,417.5 L286.6,417.0 L286.3,409.2 L285.2,408.0 L280.7,407.6Z M272.9,420.7 L273.9,413.3 L269.6,410.7 L267.9,410.8 L263.9,415.0 L265.5,419.7 L265.8,420.0 L268.8,423.1 L272.9,420.7Z M278.3,427.8 L279.1,425.3 L278.7,424.3 L272.9,420.7 L268.8,423.1 L273.0,427.4 L273.8,430.3 L278.3,427.8Z M316.0,427.2 L317.6,427.6 L323.6,422.5 L320.7,415.4 L316.2,414.6 L313.2,416.1 L314.7,425.8 L316.0,427.2Z M320.0,436.8 L321.4,434.9 L317.6,427.6 L316.0,427.2 L310.1,432.9 L311.8,437.6 L320.0,436.8Z M443.5,335.5 L450.4,338.6 L451.7,337.5 L456.1,330.9 L461.1,320.9 L459.9,321.1 L458.3,324.3 L453.9,333.0 L447.3,326.5 L446.6,325.2 L442.8,332.7 L443.5,335.5Z M390.6,312.7 L380.2,318.7 L381.3,321.1 L390.6,326.3 L400.7,320.1 L400.1,317.7 L390.6,312.7Z M405.0,304.0 L390.3,302.2 L389.7,302.8 L390.6,312.7 L400.1,317.7 L405.0,304.0Z M326.4,432.9 L323.9,434.9 L324.8,435.7 L329.7,432.5 L333.2,431.6 L332.9,430.4 L326.4,432.9Z" fill="#6b8dd3" stroke="#000" stroke-width="1"/>
<path d="M314.4,373.2 L318.8,369.3 L318.9,369.1 L312.7,357.8 L308.7,359.6 L308.2,360.7 L313.9,372.5 L314.4,373.2Z M303.6,366.5 L304.1,370.2 L307.5,373.8 L314.3,373.4 L314.4,373.2 L313.9,372.5 L305.4,364.9 L303.6,366.5Z M313.9,372.5 L308.2,360.7 L305.4,364.9 L313.9,372.5Z M307.5,373.8 L304.4,378.5 L308.4,383.5 L309.5,383.7 L315.4,379.4 L314.3,373.4 L307.5,373.8Z M323.6,422.5 L317.6,427.6 L321.4,434.9 L323.9,434.9 L326.4,432.9 L325.5,422.8 L323.6,422.5Z M334.1,427.9 L328.6,422.5 L325.5,422.8 L326.4,432.9 L332.9,430.4 L334.1,427.9Z" fill="#0838a8" stroke="#000" stroke-width="1"/>
<polygon points="343.2,200.3 345.9,208.2 347.2,214.9 352.5,208.2 355.2,203.0 360.5,203.0 360.5,195.0 343.2,195.0 343.2,200.3" fill="#a6232f" stroke="#000" stroke-width="1"/>
<polygon points="328.6,258.2 330.8,253.2 325.3,254.9 328.6,258.2" fill="#ffd23c" stroke="#000" stroke-width="1"/>
<polygon points="373.8,317.0 374.8,314.6 373.8,312.6 374.9,309.2 373.8,307.0 370.9,308.0 374.0,308.0 372.1,317.4 373.8,317.0" fill="#ffd23c" stroke="#000" stroke-width="1"/>
<polygon points="369.4,318.1 370.7,317.8 369.1,317.5 369.4,318.1" fill="#ffd23c" stroke="#000" stroke-width="1"/>
<polygon points="335.3,339.5 338.9,344.8 344.2,343.0 351.2,339.5 358.3,343.0 360.0,336.0 354.8,330.6 347.7,330.6 337.1,332.4 335.3,339.5" fill="#a6232f" stroke="#000" stroke-width="1"/>
<polygon points="269.3,338.3 272.7,338.3 272.7,335.0 269.3,335.0 269.3,338.3" fill="#ffd23c" stroke="#000" stroke-width="1"/>
<polygon points="271.2,409.5 280.5,405.5 279.1,403.5 269.9,407.5 271.2,409.5" fill="#a6232f" stroke="#000" stroke-width="1"/>
<polygon points="316.6,415.8 316.8,415.0 329.2,413.3 330.0,414.0 330.0,413.3 335.3,415.9 335.3,415.0 336.4,414.8 336.4,413.0 316.6,413.0 316.6,415.8" fill="#6b8dd3" stroke="#000" stroke-width="1"/>
<polygon points="345.9,358.5 351.2,358.5 354.7,355.0 344.1,355.0 345.9,358.5" fill="#0838a8" stroke="#000" stroke-width="1"/>
<polygon points="372.5,358.9 373.5,358.9 373.5,365.0 374.2,369.1 378.1,381.6 382.5,385.0 387.0,383.8 391.4,379.4 391.8,369.1 388.3,363.8 381.2,356.8 372.4,358.5 372.5,358.9" fill="#a6232f" stroke="#000" stroke-width="1"/>
<polygon points="410.0,365.6 410.0,355.0 404.0,355.0 410.0,365.6" fill="#a6232f" stroke="#000" stroke-width="1"/>
<polygon points="392.5,386.0 393.8,388.6 403.2,385.5 400.2,380.5 393.6,381.6 392.5,386.0" fill="#6b8dd3" stroke="#000" stroke-width="1"/>
<polygon points="387.0,410.3 393.6,411.4 390.3,404.8 384.7,404.8 387.0,410.3" fill="#ffd23c" stroke="#000" stroke-width="1"/>
<polygon points="403.6,311.5 406.9,315.9 412.4,317.0 413.5,311.5 409.1,306.0 403.6,306.0 403.6,311.5" fill="#ffd23c" stroke="#000" stroke-width="1"/>
<polygon points="417.7,383.6 423.0,376.5 417.7,374.8 417.7,383.6" fill="#ffd23c" stroke="#000" stroke-width="1"/>
<polygon points="321.0,292.1 323.2,294.3 327.6,292.1 326.5,288.8 319.9,286.6 321.0,292.1" fill="#ffd23c" stroke="#000" stroke-width="1"/>
<polygon points="359.7,316.4 366.0,316.4 366.0,312.8 365.2,310.8 358.6,310.8 359.7,316.4" fill="#ffd23c" stroke="#000" stroke-width="1"/>
<polygon points="384.0,246.6 392.0,245.0 393.2,240.0 379.9,240.0 384.0,246.6" fill="#ffd23c" stroke="#000" stroke-width="1"/>
<polygon points="405.1,246.6 415.7,245.3 418.4,240.0 397.1,240.0 405.1,246.6" fill="#ffd23c" stroke="#000" stroke-width="1"/>
<polygon points="329.4,87.4 336.5,82.1 343.6,80.3 357.7,86.5 356.8,93.6 358.6,100.6 356.8,111.2 352.4,120.1 348.0,130.7 345.3,133.3 338.3,133.3 333.0,123.6 330.3,109.5 329.4,95.3" fill="#a6232f" stroke="#000" stroke-width="1"/>
<polygon points="338.3,133.3 345.3,133.3 348.5,133.9 357.8,137.7 365.5,143.9 368.6,148.5 370.2,159.4 376.4,167.1 380.2,171.0 373.3,171.7 368.6,171.0 365.5,174.0 357.8,174.8 351.6,173.3 339.3,168.6 340.8,151.6 339.3,142.4" fill="#6b8dd3" stroke="#000" stroke-width="1"/>
<polygon points="417.4,106.8 422.7,110.3 421.8,119.2 416.5,127.1 409.5,139.5 409.5,143.0 414.8,153.6 417.3,162.5 410.4,164.0 402.6,162.5 393.4,164.0 394.9,157.8 391.8,150.1 390.3,140.8 391.8,137.7 402.6,134.6 406.0,123.6" fill="#ffd23c" stroke="#000" stroke-width="1"/>
<polygon points="381.0,171.0 387.2,165.5 394.9,164.0 401.1,162.5 402.6,167.1 405.7,176.4 402.6,181.0 399.5,190.3 391.8,189.5 384.1,185.6 382.5,177.9" fill="#ffd23c" stroke="#000" stroke-width="1"/>
<polygon points="360.9,196.5 376.4,191.8 384.1,185.6 388.7,191.8 388.9,207.7 394.2,213.0 390.7,220.0 380.0,218.3 373.0,220.0 364.2,213.0 362.4,206.0 360.6,200.0" fill="#ffd23c" stroke="#000" stroke-width="1"/>
<polygon points="330.0,170.2 333.1,176.4 331.5,182.5 331.5,190.9 325.3,191.8 322.7,181.2 321.8,174.1" fill="#a6232f" stroke="#000" stroke-width="1"/>
<polygon points="333.1,182.5 343.9,185.6 336.2,193.4 333.1,191.8" fill="#a6232f" stroke="#000" stroke-width="1"/>
<polygon points="330.6,221.0 337.7,221.0 337.7,226.0 330.6,226.0" fill="#a6232f" stroke="#000" stroke-width="1"/>
<polygon points="355.2,203.0 361.8,206.9 363.1,212.2 361.8,216.2 368.4,224.1 369.7,228.1 364.4,229.4 361.8,226.8 355.2,228.1 349.9,232.1 343.2,234.7 341.9,229.4 345.9,222.8 344.6,216.2 349.9,209.6" fill="#0838a8" stroke="#000" stroke-width="1"/>
<polygon points="348.5,234.7 351.2,240.0 356.5,245.3 361.8,246.7 360.5,250.6 355.2,250.6 347.2,241.4 343.2,237.4" fill="#0838a8" stroke="#000" stroke-width="1"/>
<polygon points="380.0,222.5 385.3,221.2 393.2,217.2 395.9,215.9 397.2,230.5 394.6,233.1 393.2,243.7 386.6,246.4 380.0,245.0 379.0,234.0" fill="#ffd23c" stroke="#000" stroke-width="1"/>
<polygon points="351.2,230.8 356.5,228.1 363.1,228.1 364.4,238.7 364.4,245.3 359.1,242.7 352.5,236.1" fill="#a6232f" stroke="#000" stroke-width="1"/>
<polygon points="397.2,231.8 407.8,235.8 419.7,243.7 413.1,247.7 402.5,243.7 394.6,239.7" fill="#ffd23c" stroke="#000" stroke-width="1"/>
<polygon points="370.6,255.9 379.9,255.9 393.2,253.3 390.5,261.2 394.5,271.8 391.8,274.5 381.2,269.2 371.9,266.5" fill="#a6232f" stroke="#000" stroke-width="1"/>
<polygon points="390.5,259.9 398.5,253.3 407.7,255.9 410.4,263.9 415.7,270.5 413.0,274.5 403.8,273.2 399.8,277.1 397.1,281.1 394.5,273.2" fill="#a6232f" stroke="#000" stroke-width="1"/>
<polygon points="342.4,339.5 349.5,336.0 354.8,341.2 353.0,348.3 351.2,355.4 344.2,357.1 340.6,350.0" fill="#0838a8" stroke="#000" stroke-width="1"/>
<polygon points="345.0,381.6 351.6,381.6 351.6,391.6 345.0,391.6" fill="#a6232f" stroke="#000" stroke-width="1"/>
<polygon points="440.6,306.6 458.3,300.0 464.9,311.0 458.3,324.3 453.9,333.0 447.3,326.5 442.8,317.7" fill="#ffd23c" stroke="#000" stroke-width="1"/>
<polygon points="396.5,339.4 405.3,337.7 412.4,343.0 408.9,348.3 412.4,351.8 417.7,343.0 415.9,337.7 421.2,337.7 426.5,348.3 428.3,364.2 421.2,371.2 408.9,371.2 403.6,360.6 401.8,353.6 396.5,346.5" fill="#a6232f" stroke="#000" stroke-width="1"/>
<polygon points="371.8,350.0 380.6,346.5 382.4,355.3 387.7,365.9 391.2,373.0 389.4,381.8 380.6,380.1 375.3,369.5 373.5,358.9" fill="#a6232f" stroke="#000" stroke-width="1"/>
<polygon points="406.4,246.6 418.4,240.0 426.4,241.1 431.7,239.7 430.3,243.7 433.0,250.3 438.3,257.0 439.6,255.3 440.7,264.1 436.3,273.0 433.0,278.5 425.0,276.0 415.7,270.5 410.4,263.9 407.7,255.9" fill="#92c23e" stroke="#000" stroke-width="1"/>
<polygon points="425.0,276.0 433.0,278.5 441.8,286.2 455.0,297.3 441.6,305.7 439.6,307.7 425.7,309.7 419.8,291.8 414.4,275.8" fill="#92c23e" stroke="#000" stroke-width="1"/>
<polyline points="356.0,49.7 364.9,43.0 380.3,35.3 390.2,30.9 394.6,21.0" fill="none" stroke="#000" stroke-width="1"/>
<polyline points="341.8,72.4 343.6,80.3" fill="none" stroke="#000" stroke-width="1"/>
<polyline points="357.7,86.5 371.8,83.9 384.0,82.0 398.3,77.6" fill="none" stroke="#000" stroke-width="1"/>
<polyline points="316.0,89.5 327.7,90.0 329.4,91.8" fill="none" stroke="#000" stroke-width="1"/>
<polyline points="318.3,118.3 330.3,111.2" fill="none" stroke="#000" stroke-width="1"/>
<polyline points="398.3,77.6 401.6,88.7 391.8,107.7 379.4,118.3 377.7,123.6 375.9,130.6 367.1,143.0 365.5,143.9" fill="none" stroke="#000" stroke-width="1"/>
<polyline points="377.7,123.6 386.5,125.3 391.8,132.4 402.6,134.6" fill="none" stroke="#000" stroke-width="1"/>
<polyline points="367.1,143.0 379.4,139.5 390.3,140.8" fill="none" stroke="#000" stroke-width="1"/>
<polyline points="401.6,88.7 414.9,96.4" fill="none" stroke="#000" stroke-width="1"/>
<polyline points="320.0,148.8 330.0,140.8 339.3,142.4" fill="none" stroke="#000" stroke-width="1"/>
<polyline points="320.5,156.0 330.0,154.7 336.2,150.9 340.8,151.6" fill="none" stroke="#000" stroke-width="1"/>
<polyline points="319.5,168.6 330.0,168.6 339.3,168.6" fill="none" stroke="#000" stroke-width="1"/>
<polyline points="333.1,176.4 343.9,176.4 350.1,177.9 354.7,179.5 368.6,171.0" fill="none" stroke="#000" stroke-width="1"/>
<polyline points="354.7,179.5 351.6,187.2 343.9,196.5" fill="none" stroke="#000" stroke-width="1"/>
<polyline points="353.2,188.7 360.9,196.5" fill="none" stroke="#000" stroke-width="1"/>
<polyline points="390.3,160.9 394.9,157.8" fill="none" stroke="#000" stroke-width="1"/>
<polyline points="402.6,162.5 404.2,165.5 413.5,164.0" fill="none" stroke="#000" stroke-width="1"/>
<polyline points="403.0,164.0 405.6,172.0 401.6,182.5 404.3,193.0 408.2,199.7 414.9,202.4 422.8,199.7 430.0,195.0" fill="none" stroke="#000" stroke-width="1"/>
<polyline points="395.0,213.0 404.3,210.3 414.9,202.4" fill="none" stroke="#000" stroke-width="1"/>
<polyline points="393.2,214.6 403.8,209.3 413.1,205.3 415.8,202.6 422.4,204.0" fill="none" stroke="#000" stroke-width="1"/>
<polyline points="419.7,243.7 426.4,241.1 431.7,239.7" fill="none" stroke="#000" stroke-width="1"/>
<polyline points="413.1,247.7 409.1,253.0 410.5,260.0" fill="none" stroke="#000" stroke-width="1"/>
<polyline points="395.9,215.9 399.9,229.1 397.2,231.8" fill="none" stroke="#000" stroke-width="1"/>
<polygon points="276.7,46.8 279.7,45.9 283.3,48.6 285.0,46.8 283.3,42.4 287.7,38.5 293.0,39.7 296.5,45.9 301.8,53.0 304.5,63.6 314.2,68.0 316.8,67.1 324.8,63.6 328.3,61.8 331.8,64.5 342.4,71.5 346.1,61.8 353.8,58.5 356.0,50.7 358.2,26.5 367.0,15.4 375.9,15.4 384.7,9.9 389.1,8.8 393.5,18.8 409.0,28.7 410.0,35.3 403.5,47.4 404.6,53.0 396.9,59.6 402.4,64.0 401.3,75.0 398.3,77.6 401.6,88.7 414.9,96.4 417.0,106.3 423.7,111.8 421.5,118.5 408.2,142.7 417.0,162.0 423.7,175.3 430.3,194.0 424.8,198.5 423.7,204.0 422.4,204.0 423.7,208.0 422.4,213.2 426.4,215.9 426.4,219.9 422.4,223.8 423.7,231.8 430.3,234.4 431.7,239.7 430.3,243.7 433.0,250.3 438.3,257.0 439.6,255.3 440.7,264.1 436.3,273.0 433.0,278.5 441.8,286.2 455.0,297.3 457.3,301.7 464.9,311.0 461.6,319.9 456.1,330.9 451.7,337.5 446.2,341.9 440.6,350.8 436.2,358.5 430.7,366.2 424.1,375.1 418.6,381.7 413.0,388.3 409.0,393.0 404.8,397.1 398.2,406.0 391.5,414.8 382.7,419.2 373.9,419.2 365.0,423.6 356.2,423.6 349.6,428.0 338.6,430.3 329.7,432.5 323.1,436.9 312.0,438.0 302.2,437.0 292.5,442.0 282.8,442.0 275.5,437.0 273.0,427.4 265.8,420.0 258.5,412.8 253.7,408.0 254.9,398.3 258.5,391.0 262.2,383.7 263.4,374.0 262.2,361.8 261.0,352.0 261.0,338.3 259.9,329.5 258.8,320.6 261.0,311.8 262.0,305.2 264.3,298.6 262.0,293.0 266.5,290.8 271.0,293.0 277.5,294.2 279.7,290.8 284.2,289.7 286.4,285.3 290.8,281.0 292.2,277.0 295.5,271.4 299.9,269.2 304.3,268.1 307.7,264.8 312.1,261.5 315.4,256.0 318.7,251.6 323.1,247.1 325.3,243.8 327.5,239.4 330.8,235.0 333.1,231.7 343.0,230.7 346.4,227.4 343.0,221.9 344.2,216.4 344.2,210.8 343.0,203.0 338.6,197.6 333.1,195.4 324.3,191.0 321.0,183.2 322.0,176.6 319.7,172.7 318.6,162.8 320.8,155.0 323.0,142.9 319.7,133.0 320.8,127.5 317.5,118.6 318.6,108.7 320.8,99.9 319.7,96.3 317.7,89.2 314.2,89.2 312.4,81.2 303.6,75.9 298.3,74.2 293.0,68.0 287.7,60.9 282.4,54.7" fill="none" stroke="#000" stroke-width="1"/>
<polygon points="215.3,418.9 218.6,416.3 221.9,412.3 226.6,411.6 227.2,415.6 233.2,416.3 235.2,415.6 236.5,418.2 235.8,422.2 232.5,424.2 231.9,428.8 228.6,432.2 225.2,430.2 220.6,426.2 217.3,422.9" fill="#000" stroke="none"/>
<polygon points="231.9,428.2 239.8,427.5 237.2,432.2 231.9,432.2" fill="#000" stroke="none"/>
<polygon points="240.0,422.0 241.5,422.0 241.5,427.0 240.0,427.0" fill="#000" stroke="none"/>
<polygon points="224.0,413.0 226.0,413.0 226.0,415.6 224.0,415.6" fill="#ffd23c" stroke="none"/>
<polygon points="218.0,419.0 219.3,419.0 219.3,420.3 218.0,420.3" fill="#ffd23c" stroke="none"/>
<polygon points="220.6,419.0 222.0,419.0 222.0,423.0 220.6,423.0" fill="#ffd23c" stroke="none"/>
<polygon points="224.6,419.6 226.0,419.6 226.0,421.0 224.6,421.0" fill="#ffd23c" stroke="none"/>
<polygon points="228.6,419.6 231.2,419.6 231.2,421.6 228.6,421.6" fill="#ffd23c" stroke="none"/>
<polygon points="227.2,416.3 230.5,416.3 230.5,419.6 227.2,419.6" fill="#92c23e" stroke="none"/>
<polygon points="223.3,422.9 226.0,422.9 226.0,425.0 223.3,425.0" fill="#a6232f" stroke="none"/>
<polygon points="227.9,426.9 229.9,426.9 229.9,429.5 227.9,429.5" fill="#a6232f" stroke="none"/>
<polygon points="227.9,424.2 230.5,424.2 230.5,426.2 227.9,426.2" fill="#fff" stroke="none"/>
<polygon points="248.0,410.0 252.0,410.8 251.6,414.0 248.6,413.6" fill="#000" stroke="none"/>
<polygon points="246.2,413.8 249.8,414.7 249.4,418.2 246.7,417.8" fill="#000" stroke="none"/>
<polygon points="242.8,417.2 247.2,417.9 246.8,420.8 243.5,420.4" fill="#000" stroke="none"/>
<polygon points="240.7,420.0 244.3,420.8 243.9,424.0 241.2,423.6" fill="#000" stroke="none"/>
<polygon points="236.5,423.5 241.5,424.3 241.0,427.5 237.2,427.1" fill="#000" stroke="none"/>
<polygon points="233.0,426.9 237.0,427.5 236.6,430.1 233.6,429.8" fill="#000" stroke="none"/>
<polygon points="241.5,434.0 246.5,434.6 246.0,437.0 242.2,436.7" fill="#000" stroke="none"/>
<polygon points="260.8,434.3 263.2,434.8 263.0,436.7 261.2,436.5" fill="#000" stroke="none"/>
<polygon points="251.5,420.5 254.5,421.1 254.2,423.5 251.9,423.2" fill="#000" stroke="none"/>
<polygon points="247.4,426.6 250.6,427.2 250.3,429.4 247.9,429.1" fill="#000" stroke="none"/>
<path d="M262 406h1v1h-1zM255 407h1v1h-1zM261 407h4v1h-4zM255 408h2v1h-2zM261 408h3v1h-3zM256 409h1v1h-1zM261 409h3v1h-3zM262 410h1v1h-1zM270 413h1v1h-1zM269 414h3v1h-3zM274 416h1v1h-1zM273 417h2v1h-2zM265 419h1v1h-1zM281 424h1v1h-1zM281 425h1v1h-1zM274 426h2v1h-2zM280 432h2v1h-2zM280 433h2v1h-2zM280 434h2v1h-2zM283 438h1v1h-1zM283 439h2v1h-2zM284 440h1v1h-1zM282 441h2v1h-2z" fill="#fff"/>
<path d="M260 383h1v1h-1zM260 384h2v1h-2zM260 385h3v1h-3zM261 386h1v1h-1zM258 387h3v1h-3zM264 387h2v1h-2zM258 388h3v1h-3zM263 388h2v1h-2zM258 389h3v1h-3zM263 389h2v1h-2zM259 390h2v1h-2zM256 391h1v1h-1zM258 391h4v1h-4zM256 392h1v1h-1zM260 392h3v1h-3zM255 393h3v1h-3zM255 394h3v1h-3zM261 394h1v1h-1zM255 395h2v1h-2zM261 395h1v1h-1zM256 396h1v1h-1zM253 397h7v1h-7zM253 398h7v1h-7zM253 399h7v1h-7zM240 400h2v1h-2zM250 400h5v1h-5zM257 400h2v1h-2zM241 401h1v1h-1zM249 401h6v1h-6zM257 401h1v1h-1zM249 402h5v1h-5zM264 402h1v1h-1zM249 403h5v1h-5zM258 403h1v1h-1zM242 404h2v1h-2zM246 404h1v1h-1zM249 404h5v1h-5zM257 404h2v1h-2zM242 405h2v1h-2zM249 405h6v1h-6zM258 405h1v1h-1zM265 405h3v1h-3zM242 406h2v1h-2zM249 406h6v1h-6zM257 406h1v1h-1zM265 406h4v1h-4zM243 407h1v1h-1zM249 407h5v1h-5zM257 407h2v1h-2zM266 407h4v1h-4zM249 408h5v1h-5zM258 408h1v1h-1zM268 408h1v1h-1zM270 408h1v1h-1zM248 409h7v1h-7zM268 409h1v1h-1zM270 409h2v1h-2zM248 410h8v1h-8zM268 410h1v1h-1zM272 410h1v1h-1zM247 411h4v1h-4zM252 411h7v1h-7zM264 411h1v1h-1zM267 411h2v1h-2zM272 411h2v1h-2zM240 412h1v1h-1zM246 412h4v1h-4zM252 412h2v1h-2zM256 412h3v1h-3zM263 412h3v1h-3zM267 412h3v1h-3zM272 412h2v1h-2zM246 413h3v1h-3zM252 413h1v1h-1zM257 413h2v1h-2zM263 413h6v1h-6zM272 413h1v1h-1zM244 414h4v1h-4zM256 414h4v1h-4zM263 414h6v1h-6zM243 415h3v1h-3zM256 415h6v1h-6zM264 415h2v1h-2zM267 415h2v1h-2zM276 415h2v1h-2zM243 416h3v1h-3zM256 416h6v1h-6zM264 416h5v1h-5zM277 416h1v1h-1zM257 417h6v1h-6zM264 417h4v1h-4zM257 418h6v1h-6zM270 418h1v1h-1zM276 418h1v1h-1zM280 418h1v1h-1zM251 419h1v1h-1zM257 419h6v1h-6zM270 419h1v1h-1zM248 420h3v1h-3zM258 420h8v1h-8zM270 420h1v1h-1zM248 421h2v1h-2zM256 421h6v1h-6zM266 421h3v1h-3zM271 421h2v1h-2zM275 421h1v1h-1zM255 422h7v1h-7zM266 422h3v1h-3zM271 422h2v1h-2zM274 422h2v1h-2zM254 423h5v1h-5zM260 423h1v1h-1zM263 423h6v1h-6zM274 423h3v1h-3zM283 423h1v1h-1zM254 424h3v1h-3zM263 424h7v1h-7zM275 424h3v1h-3zM283 424h1v1h-1zM250 425h7v1h-7zM258 425h2v1h-2zM264 425h10v1h-10zM276 425h2v1h-2zM252 426h4v1h-4zM258 426h4v1h-4zM265 426h8v1h-8zM277 426h1v1h-1zM279 426h1v1h-1zM283 426h2v1h-2zM253 427h4v1h-4zM259 427h3v1h-3zM266 427h7v1h-7zM278 427h3v1h-3zM283 427h1v1h-1zM254 428h3v1h-3zM265 428h11v1h-11zM278 428h3v1h-3zM255 429h2v1h-2zM268 429h9v1h-9zM278 429h3v1h-3zM256 430h1v1h-1zM269 430h3v1h-3zM273 430h1v1h-1zM276 430h5v1h-5zM256 431h4v1h-4zM262 431h2v1h-2zM269 431h2v1h-2zM276 431h2v1h-2zM258 432h3v1h-3zM268 432h3v1h-3zM273 432h1v1h-1zM276 432h3v1h-3zM300 432h7v1h-7zM259 433h1v1h-1zM265 433h1v1h-1zM269 433h10v1h-10zM283 433h1v1h-1zM299 433h8v1h-8zM309 433h3v1h-3zM264 434h3v1h-3zM270 434h10v1h-10zM283 434h2v1h-2zM296 434h1v1h-1zM300 434h6v1h-6zM309 434h4v1h-4zM314 434h1v1h-1zM270 435h10v1h-10zM283 435h2v1h-2zM294 435h4v1h-4zM300 435h5v1h-5zM310 435h5v1h-5zM261 436h1v1h-1zM271 436h6v1h-6zM278 436h2v1h-2zM282 436h2v1h-2zM292 436h3v1h-3zM296 436h2v1h-2zM299 436h6v1h-6zM308 436h1v1h-1zM310 436h5v1h-5zM261 437h2v1h-2zM266 437h2v1h-2zM271 437h5v1h-5zM278 437h2v1h-2zM291 437h2v1h-2zM297 437h1v1h-1zM299 437h14v1h-14zM261 438h2v1h-2zM266 438h2v1h-2zM271 438h4v1h-4zM277 438h5v1h-5zM287 438h3v1h-3zM298 438h15v1h-15zM315 438h1v1h-1zM264 439h1v1h-1zM271 439h5v1h-5zM277 439h5v1h-5zM286 439h4v1h-4zM298 439h18v1h-18zM263 440h3v1h-3zM272 440h4v1h-4zM278 440h4v1h-4zM286 440h3v1h-3zM297 440h8v1h-8zM307 440h9v1h-9zM262 441h4v1h-4zM273 441h3v1h-3zM278 441h1v1h-1zM285 441h4v1h-4zM293 441h2v1h-2zM297 441h8v1h-8zM307 441h8v1h-8zM262 442h2v1h-2zM274 442h2v1h-2zM278 442h1v1h-1zM283 442h7v1h-7zM291 442h13v1h-13zM307 442h4v1h-4zM312 442h2v1h-2zM269 443h3v1h-3zM274 443h3v1h-3zM281 443h18v1h-18zM300 443h1v1h-1zM302 443h2v1h-2zM309 443h1v1h-1zM269 444h4v1h-4zM275 444h1v1h-1zM280 444h3v1h-3zM287 444h11v1h-11zM269 445h3v1h-3zM276 445h1v1h-1zM280 445h3v1h-3zM289 445h4v1h-4zM271 446h1v1h-1zM276 446h2v1h-2zM280 446h4v1h-4zM286 446h1v1h-1zM290 446h5v1h-5zM275 447h9v1h-9zM293 447h3v1h-3zM307 447h3v1h-3zM315 447h1v1h-1zM273 448h7v1h-7zM281 448h4v1h-4zM294 448h3v1h-3zM299 448h2v1h-2zM309 448h1v1h-1zM273 449h7v1h-7zM281 449h3v1h-3zM289 449h2v1h-2zM295 449h6v1h-6z" fill="#000"/>
</svg>
</body></html>
